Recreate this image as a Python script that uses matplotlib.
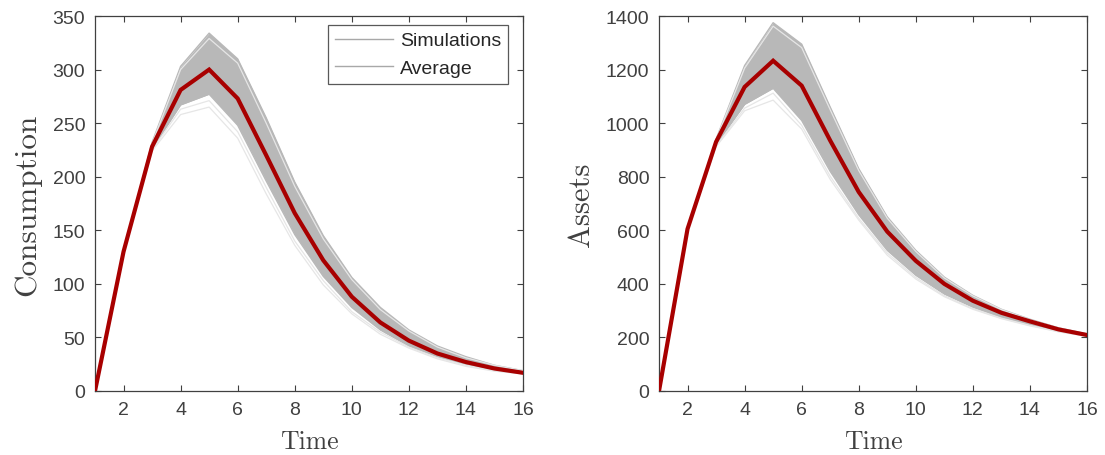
import matplotlib
matplotlib.use("Agg")
import matplotlib.pyplot as plt
from matplotlib.lines import Line2D

# ---- data -------------------------------------------------------------
time = list(range(1, 17))

# consumption: simulated paths (dense band), lighter outlier paths, average
cons_sims = [
    [0, 130, 232, 303, 334, 310, 255, 195, 145, 106, 78, 57, 42, 32, 24, 19],
    [0, 130, 230, 292, 318, 292, 238, 181, 134, 97, 71, 52, 39, 29, 22, 18],
    [0, 130, 228, 281, 300, 273, 220, 166, 122, 88, 64, 47, 35, 27, 21, 17],
    [0, 130, 227, 272, 287, 258, 205, 154, 113, 81, 60, 44, 33, 26, 20, 17],
    [0, 130, 226, 267, 277, 248, 196, 146, 107, 78, 57, 42, 32, 25, 19.5, 16.5],
]
cons_light = [
    [0, 130, 231, 300, 329, 306, 250, 191, 142, 104, 76, 56, 41, 31, 24, 19],
    [0, 130, 225, 263, 271, 242, 190, 140, 103, 74, 55, 41, 31, 24, 19, 16],
    [0, 130, 224, 258, 265, 236, 184, 136, 99, 72, 53, 40, 30, 23, 18.5, 16],
]
cons_avg = [0, 130, 228, 281, 300, 273, 220, 166, 122, 88, 64, 47, 35, 27, 21, 17]

# assets: simulated paths (dense band), lighter outlier paths, average
asset_sims = [
    [0, 600, 940, 1215, 1375, 1295, 1060, 830, 650, 525, 425, 357, 305, 268, 236, 213],
    [0, 602, 935, 1175, 1300, 1215, 995, 785, 620, 505, 412, 347, 298, 264, 233, 211],
    [0, 605, 930, 1135, 1233, 1140, 935, 743, 595, 486, 400, 337, 292, 260, 230, 209],
    [0, 600, 925, 1100, 1180, 1075, 875, 700, 558, 458, 380, 325, 283, 255, 227, 207],
    [0, 600, 920, 1070, 1130, 1010, 820, 658, 525, 432, 362, 313, 275, 248, 224, 206],
]
asset_light = [
    [0, 600, 938, 1205, 1362, 1282, 1050, 823, 645, 521, 422, 355, 304, 266, 235, 212],
    [0, 600, 915, 1056, 1112, 992, 802, 645, 515, 424, 356, 308, 272, 245, 222, 205],
    [0, 600, 912, 1046, 1086, 978, 790, 638, 507, 418, 352, 305, 270, 243, 221, 204],
]
asset_avg = [0, 605, 930, 1135, 1233, 1140, 935, 743, 595, 486, 400, 337, 292, 260, 230, 209]

x_ticks = [2, 4, 6, 8, 10, 12, 14, 16]
cons_ticks = [0, 50, 100, 150, 200, 250, 300, 350]
asset_ticks = [0, 200, 400, 600, 800, 1000, 1200, 1400]

# ---- styling ----------------------------------------------------------
plt.rcParams["font.family"] = ["Liberation Sans", "DejaVu Sans"]
AX_COLOR = "#404040"
BAND = "#b8b8b8"
LIGHT = "#e6e6e6"
RED = "#a80000"
W, H = 1105, 456

fig = plt.figure(figsize=(W / 100, H / 100), dpi=100)
ax1 = fig.add_axes([95 / W, 64 / H, 428 / W, 375 / H])
ax2 = fig.add_axes([659 / W, 64 / H, 428 / W, 375 / H])


def draw_panel(ax, sims, light, avg, yticks, ylabel, label_size):
    lo = [min(v) for v in zip(*sims)]
    hi = [max(v) for v in zip(*sims)]
    ax.fill_between(time, lo, hi, color=BAND, lw=0, zorder=1)
    for s in sims:
        ax.plot(time, s, color=BAND, lw=1.0, zorder=2)
    for s in light:
        ax.plot(time, s, color=LIGHT, lw=0.9, zorder=3)
    ax.plot(time, avg, color=RED, lw=3.0, zorder=5, solid_joinstyle="miter")

    ax.set_xlim(1, 16)
    ax.set_ylim(yticks[0], yticks[-1])
    ax.set_xticks(x_ticks)
    ax.set_yticks(yticks)
    ax.tick_params(direction="in", top=True, right=True, length=4,
                   width=0.8, colors=AX_COLOR, labelsize=14, pad=7)
    for sp in ax.spines.values():
        sp.set_color(AX_COLOR)
        sp.set_linewidth(0.9)
    ax.set_xlabel("Time", fontfamily="cmr10", fontsize=18.5, color=AX_COLOR,
                  labelpad=8)
    ax.set_ylabel(ylabel, fontfamily="cmr10", fontsize=label_size,
                  color=AX_COLOR, labelpad=8)


draw_panel(ax1, cons_sims, cons_light, cons_avg, cons_ticks, "Consumption", 22.5)
draw_panel(ax2, asset_sims, asset_light, asset_avg, asset_ticks, "Assets", 22)

handles = [Line2D([], [], color="#a8a8a8", lw=1.0),
           Line2D([], [], color="#a8a8a8", lw=1.0)]
leg = ax1.legend(handles, ["Simulations", "Average"], loc="upper right",
                 bbox_to_anchor=(0.965, 0.976), fontsize=14, frameon=True,
                 fancybox=False, handlelength=3.0, handletextpad=0.35,
                 borderpad=0.35, labelspacing=0.5, borderaxespad=0)
leg.get_frame().set_edgecolor("#303030")
leg.get_frame().set_linewidth(0.9)
for t in leg.get_texts():
    t.set_color("#262626")

fig.savefig("out.png", dpi=100)
